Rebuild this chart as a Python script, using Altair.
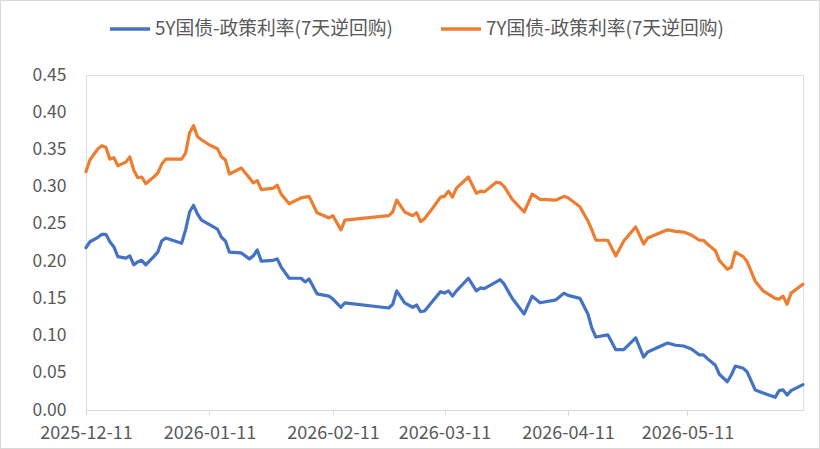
import altair as alt
import pandas as pd

dates = [
    "2025-12-11", "2025-12-12", "2025-12-14", "2025-12-15", "2025-12-16", "2025-12-17",
    "2025-12-18", "2025-12-19", "2025-12-21", "2025-12-22", "2025-12-23", "2025-12-24",
    "2025-12-25", "2025-12-26", "2025-12-28", "2025-12-29", "2025-12-30", "2025-12-31",
    "2026-01-04", "2026-01-05", "2026-01-06", "2026-01-07", "2026-01-08", "2026-01-09",
    "2026-01-11", "2026-01-13", "2026-01-14", "2026-01-15", "2026-01-16", "2026-01-19",
    "2026-01-21", "2026-01-22", "2026-01-23", "2026-01-24", "2026-01-27", "2026-01-28",
    "2026-01-29", "2026-01-31", "2026-02-03", "2026-02-04", "2026-02-05", "2026-02-07",
    "2026-02-10", "2026-02-11", "2026-02-13", "2026-02-14", "2026-02-25", "2026-02-26",
    "2026-02-27", "2026-03-01", "2026-03-03", "2026-03-04", "2026-03-05", "2026-03-06",
    "2026-03-08", "2026-03-10", "2026-03-11", "2026-03-12", "2026-03-13", "2026-03-14",
    "2026-03-17", "2026-03-19", "2026-03-20", "2026-03-21", "2026-03-24", "2026-03-25",
    "2026-03-26", "2026-03-28", "2026-03-31", "2026-04-02", "2026-04-04", "2026-04-08",
    "2026-04-10", "2026-04-11", "2026-04-14", "2026-04-16", "2026-04-17", "2026-04-18",
    "2026-04-21", "2026-04-23", "2026-04-25", "2026-04-28", "2026-04-30", "2026-05-01",
    "2026-05-06", "2026-05-08", "2026-05-10", "2026-05-12", "2026-05-14", "2026-05-15",
    "2026-05-16", "2026-05-18", "2026-05-19", "2026-05-21", "2026-05-22", "2026-05-23",
    "2026-05-25", "2026-05-26", "2026-05-28", "2026-05-30", "2026-06-02", "2026-06-03",
    "2026-06-04", "2026-06-05", "2026-06-06", "2026-06-09",
]

spread_5y = [
    0.218, 0.226, 0.232, 0.236, 0.236, 0.226, 0.219, 0.206, 0.204, 0.207, 0.195, 0.199,
    0.201, 0.195, 0.206, 0.212, 0.227, 0.231, 0.224, 0.242, 0.266, 0.275, 0.263, 0.255,
    0.249, 0.243, 0.232, 0.227, 0.212, 0.211, 0.203, 0.207, 0.215, 0.200, 0.201, 0.203,
    0.192, 0.177, 0.177, 0.172, 0.176, 0.156, 0.153, 0.149, 0.138, 0.144, 0.137, 0.142,
    0.160, 0.144, 0.138, 0.141, 0.132, 0.133, 0.146, 0.159, 0.157, 0.160, 0.153, 0.160,
    0.177, 0.160, 0.164, 0.163, 0.172, 0.175, 0.169, 0.150, 0.129, 0.153, 0.144, 0.148,
    0.157, 0.154, 0.150, 0.129, 0.110, 0.098, 0.101, 0.081, 0.081, 0.097, 0.071, 0.078,
    0.090, 0.087, 0.086, 0.082, 0.074, 0.074, 0.069, 0.060, 0.048, 0.038, 0.047, 0.059,
    0.056, 0.051, 0.027, 0.023, 0.017, 0.026, 0.027, 0.020, 0.026, 0.034,
]

spread_7y = [
    0.320, 0.336, 0.351, 0.355, 0.353, 0.337, 0.339, 0.328, 0.333, 0.340, 0.322, 0.312,
    0.313, 0.304, 0.313, 0.318, 0.330, 0.337, 0.337, 0.345, 0.372, 0.382, 0.367, 0.363,
    0.356, 0.351, 0.340, 0.336, 0.317, 0.325, 0.312, 0.305, 0.308, 0.296, 0.298, 0.302,
    0.290, 0.277, 0.285, 0.286, 0.287, 0.265, 0.258, 0.261, 0.242, 0.255, 0.261, 0.266,
    0.282, 0.266, 0.261, 0.265, 0.253, 0.257, 0.271, 0.286, 0.287, 0.294, 0.286, 0.298,
    0.313, 0.291, 0.294, 0.293, 0.306, 0.305, 0.300, 0.283, 0.266, 0.290, 0.283, 0.282,
    0.287, 0.285, 0.273, 0.254, 0.242, 0.228, 0.228, 0.207, 0.227, 0.246, 0.223, 0.231,
    0.242, 0.240, 0.239, 0.235, 0.228, 0.228, 0.223, 0.214, 0.201, 0.189, 0.192, 0.212,
    0.206, 0.199, 0.173, 0.160, 0.150, 0.149, 0.153, 0.142, 0.157, 0.169,
]

series_names = ["5Y国债-政策利率(7天逆回购)", "7Y国债-政策利率(7天逆回购)"]
series_colors = ["#4472C4", "#ED7D31"]
tick_dates = ["2025-12-11", "2026-01-11", "2026-02-11", "2026-03-11", "2026-04-11", "2026-05-11"]
y_ticks = [0.0, 0.05, 0.10, 0.15, 0.20, 0.25, 0.30, 0.35, 0.40, 0.45]

rows = []
for d, a, b in zip(dates, spread_5y, spread_7y):
    rows.append({"date": d, "series": series_names[0], "value": a})
    rows.append({"date": d, "series": series_names[1], "value": b})
df = pd.DataFrame(rows)

FONT = "Noto Sans CJK SC"
GRAY = "#595959"

tick_values = [alt.DateTime(year=int(t[:4]), month=int(t[5:7]), date=int(t[8:10])) for t in tick_dates]

lines = (
    alt.Chart(df)
    .mark_line(strokeWidth=3.2, strokeJoin="round", strokeCap="round")
    .encode(
        x=alt.X(
            "date:T",
            scale=alt.Scale(domain=[
                alt.DateTime(year=2025, month=12, date=11),
                alt.DateTime(year=2026, month=6, date=9),
            ]),
            axis=alt.Axis(
                title=None,
                values=tick_values,
                format="%Y-%m-%d",
                grid=False,
                domainColor="#D9D9D9",
                domainWidth=1,
                tickColor="#D9D9D9",
                tickSize=5,
                labelFont=FONT,
                labelFontSize=18,
                labelColor=GRAY,
                labelPadding=9,
                labelOverlap=False,
                labelFlush=False,
            ),
        ),
        y=alt.Y(
            "value:Q",
            scale=alt.Scale(domain=[0, 0.45], nice=False),
            axis=alt.Axis(
                title=None,
                values=y_ticks,
                format=".2f",
                grid=False,
                domain=False,
                ticks=False,
                labelFont=FONT,
                labelFontSize=17.5,
                labelColor=GRAY,
                labelPadding=20,
            ),
        ),
        color=alt.Color(
            "series:N",
            scale=alt.Scale(domain=series_names, range=series_colors),
            legend=alt.Legend(
                title=None,
                orient="none",
                direction="horizontal",
                legendX=22,
                legendY=-68,
                symbolType="stroke",
                symbolSize=1600,
                symbolStrokeWidth=3.5,
                labelFont=FONT,
                labelFontSize=18.8,
                labelColor=GRAY,
                labelOffset=3,
                columnPadding=41,
                labelLimit=400,
            ),
        ),
    )
)

border = alt.Chart(df).mark_rect(fill=None, stroke="#D9D9D9", strokeWidth=1).encode(
    x=alt.value(-85.5), x2=alt.value(733.5), y=alt.value(-74.5), y2=alt.value(373.5)
)

chart = (
    alt.layer(border, lines)
    .properties(
        width=717,
        height=335,
        autosize=alt.AutoSizeParams(type="none"),
        padding={"left": 86, "top": 75, "right": 17, "bottom": 39},
    )
    .configure_view(stroke=None)
    .configure(background="white")
)

chart.save("out.html", embed_options={"renderer": "svg", "actions": False})
